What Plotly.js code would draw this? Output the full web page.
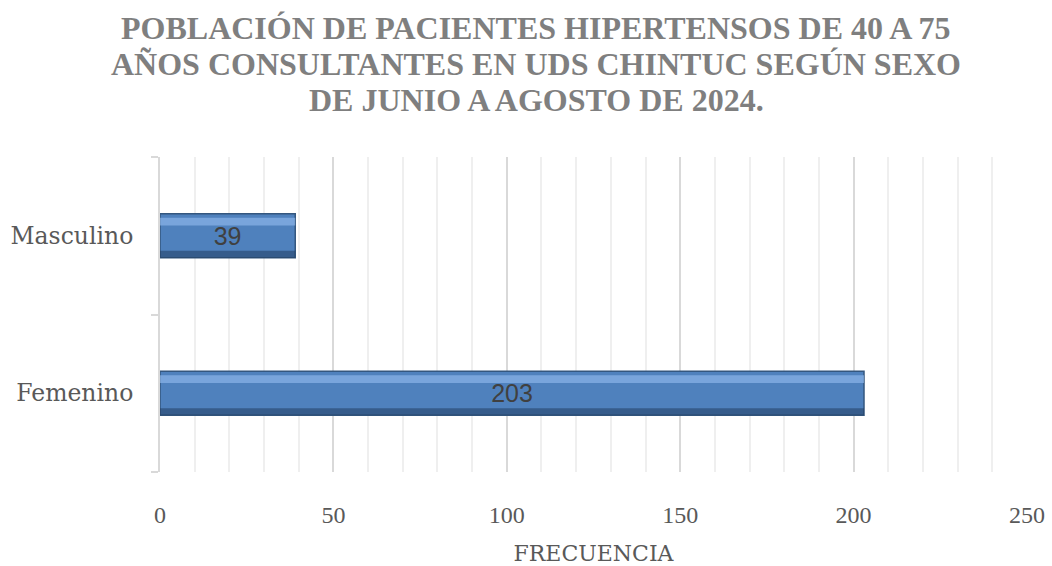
<!DOCTYPE html>
<html>
<head>
<meta charset="utf-8">
<script src="https://cdn.plot.ly/plotly-3.0.1.min.js"></script>
<style>html,body{margin:0;padding:0;background:#fff;}#chart{width:1052px;height:566px;}</style>
</head>
<body>
<div id="chart"></div>
<script>
var categories = ['Femenino', 'Masculino'];
var frecuencia = [203, 39];
var xTicks = [0, 50, 100, 150, 200, 250];
var titleLines = [
  'POBLACIÓN DE PACIENTES HIPERTENSOS DE 40 A 75',
  'AÑOS CONSULTANTES EN UDS CHINTUC SEGÚN SEXO',
  'DE JUNIO A AGOSTO DE 2024.'
];
var xTitle = 'FRECUENCIA';

var serif = 'Liberation Serif, Times New Roman, serif';
var slab = 'DejaVu Serif, serif';

var traces = [
  {
    type: 'bar', orientation: 'h',
    y: categories, x: frecuencia,
    width: 0.28,
    marker: {color: '#4f81bd', line: {color: '#34577f', width: 1.5}},
    text: frecuencia.map(String),
    textposition: 'inside', insidetextanchor: 'middle',
    textfont: {family: 'Liberation Sans, Arial, sans-serif', size: 25, color: '#404040'},
    hoverinfo: 'none', showlegend: false
  },
  {
    type: 'bar', orientation: 'h',
    y: categories, x: frecuencia,
    width: 0.05, offset: 0.065,
    marker: {color: 'rgba(150,190,240,0.6)', line: {width: 0}},
    hoverinfo: 'none', showlegend: false
  },
  {
    type: 'bar', orientation: 'h',
    y: categories, x: frecuencia,
    width: 0.045, offset: -0.14,
    marker: {color: 'rgba(30,55,90,0.5)', line: {width: 0}},
    hoverinfo: 'none', showlegend: false
  }
];

// title lines as annotations, centred on the page
var plotLeft = 160, plotW = 867, plotTop = 157, plotH = 315;
var titleCentres = [28, 64, 100];
var annotations = titleLines.map(function (t, i) {
  return {
    text: t, xref: 'paper', yref: 'paper',
    x: (536 - plotLeft) / plotW, xanchor: 'center',
    y: (plotTop + plotH - titleCentres[i]) / plotH, yanchor: 'middle',
    showarrow: false,
    font: {family: serif, size: 32, color: '#7f7f7f', weight: 'bold'}
  };
});

var layout = {
  width: 1052, height: 566,
  margin: {l: 160, r: 25, t: 157, b: 94},
  paper_bgcolor: '#ffffff', plot_bgcolor: '#ffffff',
  barmode: 'overlay',
  annotations: annotations,
  xaxis: {
    range: [0, 250],
    tickvals: xTicks, ticktext: xTicks.map(String),
    showgrid: true, gridcolor: '#d9d9d9', gridwidth: 2,
    minor: {dtick: 10, showgrid: true, gridcolor: '#efefef', gridwidth: 2},
    zeroline: false, showline: false, ticks: '',
    tickfont: {family: serif, size: 24, color: '#595959'},
    ticklabelstandoff: 26,
    title: {text: xTitle, font: {family: slab, size: 22, color: '#595959'}, standoff: 20},
    fixedrange: true
  },
  yaxis: {
    type: 'category', categoryorder: 'array', categoryarray: categories,
    showgrid: false, zeroline: false,
    showline: true, linecolor: '#d9d9d9', linewidth: 2,
    ticks: 'outside', tickson: 'boundaries', ticklen: 7, tickcolor: '#d9d9d9', tickwidth: 2,
    tickfont: {family: slab, size: 23.5, color: '#595959'},
    ticklabelstandoff: 20,
    fixedrange: true
  }
};

Plotly.newPlot('chart', traces, layout, {displayModeBar: false, staticPlot: true});
</script>
</body>
</html>
